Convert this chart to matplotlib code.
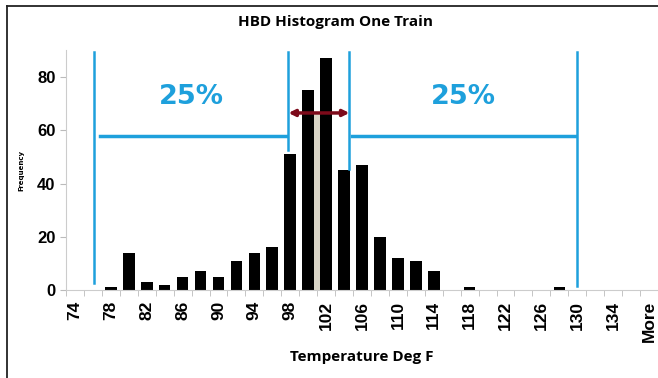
import matplotlib.pyplot as plt
from matplotlib.lines import Line2D

# histogram bins (Excel style, step 2 plus "More")
bins = [str(v) for v in range(74, 137, 2)] + ['More']
freq = [0, 0, 1, 14, 3, 2, 5, 7, 5, 11, 14, 16, 51, 75, 87, 45, 47, 20,
        12, 11, 7, 0, 1, 0, 0, 0, 0, 1, 0, 0, 0, 0, 0]

# median marker bar (beige, between 100 and 102)
median_pos = 13.5
median_height = 66

# quartile guide lines (x in bin index units, y bottom of each line)
quart_x = [1.07, 11.9, 15.3, 28.0]
quart_ybot = [2.5, 52.5, 45.5, 1.5]
quart_top = 89.5
span_y = 57.8
iqr_y = 66.5

blue = '#1ea0dc'
dark_red = '#7d0a1a'

fig = plt.figure(figsize=(6.58, 3.78), dpi=100)
ax = fig.add_axes([66 / 658, 1 - 290 / 378, 592 / 658, 239.6 / 378])

x = list(range(len(bins)))
ax.bar(median_pos, median_height, width=0.45, color='#d9d5c6', zorder=1)
ax.bar(x, freq, width=0.65, color='black', zorder=2)

for xv, yb in zip(quart_x, quart_ybot):
    ax.plot([xv, xv], [yb, quart_top], color=blue, lw=1.8, zorder=3)
ax.plot([quart_x[0] + 0.3, quart_x[1] - 0.15], [span_y, span_y], color=blue, lw=2.5, zorder=3)
ax.plot([quart_x[2] + 0.15, quart_x[3] - 0.15], [span_y, span_y], color=blue, lw=2.5, zorder=3)
ax.annotate('', xy=(quart_x[1], iqr_y), xytext=(quart_x[2], iqr_y),
            arrowprops=dict(arrowstyle='<|-|>', color=dark_red, lw=2.5,
                            mutation_scale=9, shrinkA=0, shrinkB=0), zorder=4)
ax.text((quart_x[0] + quart_x[1]) / 2, 72.5, '25%', color=blue, fontsize=19.5,
        fontweight='bold', ha='center', va='center', family='DejaVu Sans')
ax.text((quart_x[2] + quart_x[3]) / 2, 72.5, '25%', color=blue, fontsize=19.5,
        fontweight='bold', ha='center', va='center', family='DejaVu Sans')

ax.set_xlim(-0.5, len(bins) - 0.5)
ax.set_ylim(0, 90)
ax.set_xticks(x[::2])
ax.set_xticklabels(bins[::2], rotation=90, fontsize=12.5, fontweight='bold',
                   family='Liberation Sans')
ax.set_xticks([i - 0.5 for i in range(len(bins) + 1)], minor=True)
ax.tick_params(axis='x', which='major', length=0, pad=8)
ax.tick_params(axis='x', which='minor', length=4, color='#bbbbbb')
ax.set_yticks([0, 20, 40, 60, 80])
ax.set_yticklabels(['0', '20', '40', '60', '80'], fontsize=12, fontweight='bold',
                   family='Liberation Sans')
ax.tick_params(axis='y', length=4, color='#bbbbbb')

for s in ['top', 'right']:
    ax.spines[s].set_visible(False)
ax.spines['left'].set_color('#cccccc')
ax.spines['bottom'].set_color('#cccccc')

ax.set_ylabel('Frequency', fontsize=5, fontweight='bold')
ax.yaxis.set_label_coords(-0.07, 0.5)
ax.set_xlabel('Temperature Deg F', fontsize=11, fontweight='bold', family='Open Sans')
ax.xaxis.set_label_coords(0.5, -67 / 239.6)
ax.xaxis.label.set_va('center')
fig.text(335 / 658, 1 - 22 / 378, 'HBD Histogram One Train', ha='center', va='center',
         fontsize=11, fontweight='bold', family='Open Sans')

# frame: only top and left edges visible in the original screenshot
fig.add_artist(Line2D([6.5 / 658, 6.5 / 658], [0, 1 - 5.5 / 378], color='#222222',
                      lw=1.3, transform=fig.transFigure))
fig.add_artist(Line2D([6.5 / 658, 1], [1 - 5.5 / 378, 1 - 5.5 / 378], color='#222222',
                      lw=1.3, transform=fig.transFigure))

fig.savefig('out.png', dpi=100)
